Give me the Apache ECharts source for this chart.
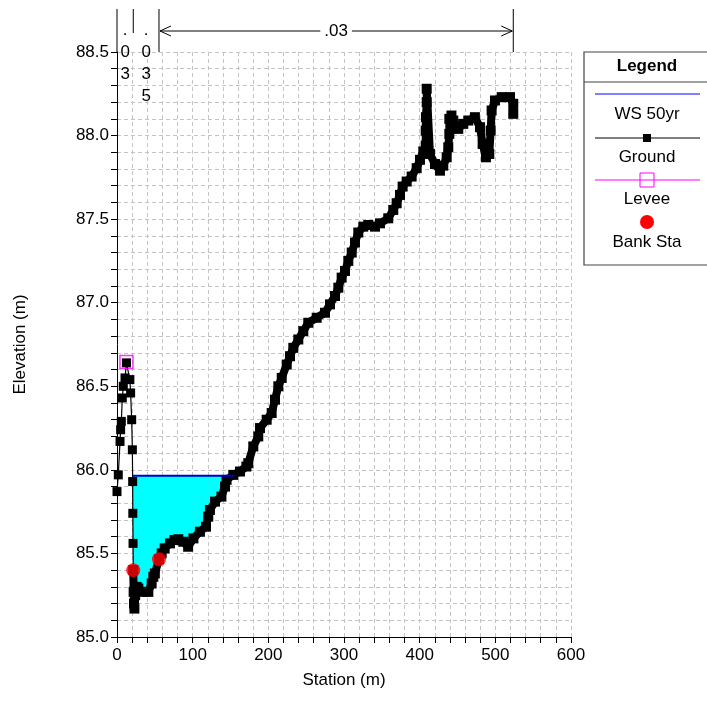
<!DOCTYPE html>
<html>
<head>
<meta charset="utf-8">
<script src="https://cdn.jsdelivr.net/npm/echarts@6/dist/echarts.min.js"></script>
<style>
html, body { margin: 0; padding: 0; background: #fff; }
#myChart { width: 707px; height: 717px; }
</style>
</head>
<body>
<div id="myChart"></div>
<script>
// ground profile (station m, elevation m)
var groundSta = [0, 1.7, 4, 4.8, 5.7, 7, 8.3, 10.6, 12.5, 17, 18, 19.4, 20.3, 20.7, 20.9, 21.2, 21.5, 22, 22.5, 23, 24, 26, 28.2, 34.8, 41.4, 45.8, 48, 50, 55.5, 59, 63, 70, 76, 81, 87.6, 94, 101, 109.6, 117.6, 120.6, 122.8, 129.5, 138, 142.7, 144.8, 153.7, 162.5, 171, 173.5, 180.1, 186.7, 189, 197.8, 204.4, 208.8, 213.2, 217.7, 224.3, 228.6, 233, 239.6, 246.2, 252.8, 263.9, 274.9, 281.5, 288.1, 292.5, 296.9, 301.3, 305.7, 310.2, 314.5, 318.9, 325.5, 332.1, 341, 347.6, 358.5, 365.1, 369.6, 374, 377.5, 382.8, 389.4, 396, 400.4, 404.8, 408, 408, 408.3, 409.3, 409.3, 413.6, 420.2, 426.8, 431.2, 435.7, 437.8, 439.2, 439.2, 442, 444.5, 451, 457.6, 464.2, 473, 479.7, 483.2, 487.6, 492, 493.8, 495.1, 499.5, 508.4, 519.4, 523.7, 523.7];
var groundElev = [85.87, 85.97, 86.17, 86.24, 86.29, 86.43, 86.50, 86.55, 86.64, 86.54, 86.46, 86.30, 86.12, 85.93, 85.74, 85.56, 85.40, 85.27, 85.20, 85.17, 85.25, 85.30, 85.29, 85.27, 85.27, 85.32, 85.36, 85.38, 85.465, 85.50, 85.53, 85.56, 85.58, 85.585, 85.57, 85.54, 85.59, 85.63, 85.66, 85.72, 85.76, 85.81, 85.84, 85.90, 85.94, 85.97, 85.99, 86.02, 86.04, 86.14, 86.20, 86.25, 86.30, 86.34, 86.42, 86.50, 86.55, 86.63, 86.68, 86.73, 86.78, 86.83, 86.88, 86.91, 86.94, 86.99, 87.04, 87.09, 87.15, 87.19, 87.25, 87.30, 87.36, 87.42, 87.455, 87.465, 87.455, 87.475, 87.505, 87.555, 87.595, 87.645, 87.695, 87.725, 87.755, 87.805, 87.855, 87.905, 87.94, 88.03, 88.11, 88.20, 88.28, 87.89, 87.83, 87.79, 87.82, 87.87, 87.93, 88.01, 88.10, 88.12, 88.09, 88.04, 88.07, 88.09, 88.11, 88.05, 87.95, 87.87, 87.89, 88.03, 88.15, 88.21, 88.23, 88.23, 88.19, 88.13];

// water surface
var wsElev = 85.965;
var wsSta = [20.7, 155];

// levee + bank stations
var leveeSta = [12.5];
var leveeElev = [86.645];
var bankSta = [21.5, 55.5];
var bankElev = [85.40, 85.465];

// manning's n breaks
var nSta = [0, 21.5, 55.5, 523.7];
var nVal = ['.03', '.035', '.03'];

var font = 'Liberation Sans, Arial, sans-serif';

var myChart = echarts.init(document.getElementById('myChart'));

function pairs(a, b) {
	var out = [];
	for (var i = 0; i < a.length; i++) out.push([a[i], b[i]]);
	return out;
}

var groundData = pairs(groundSta, groundElev);
// left overbank points are sparse (thin line), the rest are dense survey shots
var splitAt = groundSta.indexOf(bankSta[0]);
var groundLeft = groundData.slice(0, splitAt + 1);
var groundRest = groundData.slice(splitAt);

// polygon of the wetted area: ws line then ground back
var fillPoly = [[wsSta[0], wsElev], [wsSta[1], wsElev]];
for (var i = groundSta.length - 1; i >= 0; i--) {
	if (groundSta[i] > wsSta[0] && groundSta[i] < wsSta[1] && groundElev[i] < wsElev) {
		fillPoly.push([groundSta[i], groundElev[i]]);
	}
}

var gridLine = { show: true, lineStyle: { color: '#c4c4c4', type: [4, 3], width: 1 } };

option = {
	animation: false,
	backgroundColor: '#fff',
	grid: { left: 117, right: 136, top: 52, bottom: 80 },
	xAxis: {
		type: 'value', min: 0, max: 600, interval: 20,
		name: 'Station (m)', nameLocation: 'middle', nameGap: 35,
		nameTextStyle: { color: '#000', fontSize: 17, fontFamily: font },
		axisLine: { onZero: false, lineStyle: { color: '#000', width: 1 } },
		axisTick: { length: 6, lineStyle: { color: '#000' } },
		axisLabel: {
			color: '#000', fontSize: 17, fontFamily: font, margin: 10,
			formatter: function(v) { return v % 100 === 0 ? String(v) : ''; }
		},
		splitLine: gridLine
	},
	yAxis: {
		type: 'value', min: 85, max: 88.5, interval: 0.1,
		name: 'Elevation (m)', nameLocation: 'middle', nameGap: 88,
		nameTextStyle: { color: '#000', fontSize: 17, fontFamily: font },
		axisLine: { show: true, onZero: false, lineStyle: { color: '#000', width: 1 } },
		axisTick: { show: true, length: 6, lineStyle: { color: '#000' } },
		axisLabel: {
			color: '#000', fontSize: 17, fontFamily: font, margin: 8,
			formatter: function(v) {
				var t = Math.round(v * 10);
				return t % 5 === 0 ? (t / 10).toFixed(1) : '';
			}
		},
		splitLine: gridLine
	},
	series: [
		{
			type: 'custom', name: 'fill', z: 1,
			data: [0],
			renderItem: function(params, api) {
				var pts = fillPoly.map(function(p) { return api.coord(p); });
				return { type: 'polygon', shape: { points: pts }, style: { fill: '#00ffff' } };
			}
		},
		{
			type: 'line', name: 'Ground', z: 3,
			data: groundLeft,
			symbol: 'rect', symbolSize: 9,
			itemStyle: { color: '#000' },
			lineStyle: { color: '#000', width: 1.2 }
		},
		{
			type: 'line', name: 'Ground', z: 3,
			data: groundRest,
			symbol: 'rect', symbolSize: 10,
			itemStyle: { color: '#000' },
			lineStyle: { color: '#000', width: 8, join: 'round', cap: 'round' }
		},
		{
			type: 'line', name: 'WS 50yr', z: 4,
			data: [[wsSta[0], wsElev], [wsSta[1], wsElev]],
			symbol: 'none',
			lineStyle: { color: '#0000cc', width: 2 }
		},
		{
			type: 'scatter', name: 'Levee', z: 5,
			data: pairs(leveeSta, leveeElev),
			symbol: 'rect', symbolSize: 13,
			itemStyle: { color: 'rgba(0,0,0,0)', borderColor: '#ff00ff', borderWidth: 1.5 }
		},
		{
			type: 'scatter', name: 'Bank Sta', z: 6,
			data: pairs(bankSta, bankElev),
			symbol: 'circle', symbolSize: 14,
			itemStyle: { color: '#ff0000' }
		}
	]
};
myChart.setOption(option);

// manning's n annotations above the plot + legend box
var g = [];
var xs = nSta.map(function(s) { return myChart.convertToPixel({ xAxisIndex: 0 }, s); });
var topY = 52;
for (var k = 0; k < xs.length; k++) {
	var y2 = (k === 1) ? 33 : topY;
	g.push({ type: 'line', shape: { x1: xs[k], y1: 9, x2: xs[k], y2: y2 }, style: { stroke: '#000', lineWidth: 1 } });
}
// the narrow segments get vertical text
for (var k = 0; k < 2; k++) {
	g.push({
		type: 'text',
		style: {
			text: nVal[k].split('').join('\n'),
			x: (xs[k] + xs[k + 1]) / 2, y: 19,
			align: 'center', verticalAlign: 'top',
			font: '17px ' + font, lineHeight: 22, fill: '#000'
		}
	});
}
// wide segment: arrow with label
var ax1 = xs[2] + 1, ax2 = xs[3] - 1, ay = 31;
g.push({ type: 'line', shape: { x1: ax1, y1: ay, x2: ax2, y2: ay }, style: { stroke: '#000', lineWidth: 1 } });
g.push({ type: 'polyline', shape: { points: [[ax1 + 11, ay - 5], [ax1, ay], [ax1 + 11, ay + 5]] }, style: { stroke: '#000', fill: 'none', lineWidth: 1 } });
g.push({ type: 'polyline', shape: { points: [[ax2 - 11, ay - 5], [ax2, ay], [ax2 - 11, ay + 5]] }, style: { stroke: '#000', fill: 'none', lineWidth: 1 } });
g.push({
	type: 'text',
	style: {
		text: nVal[2], x: (ax1 + ax2) / 2, y: ay,
		align: 'center', verticalAlign: 'middle',
		font: '17px ' + font, fill: '#000',
		backgroundColor: '#fff', padding: [0, 4]
	}
});

// legend
var lx = 584, ly = 52, cx = 647;
g.push({ type: 'rect', shape: { x: lx, y: ly, width: 130, height: 213 }, style: { fill: '#fff', stroke: '#444', lineWidth: 1.2 } });
g.push({ type: 'line', shape: { x1: lx, y1: 82, x2: 714, y2: 82 }, style: { stroke: '#444', lineWidth: 1.2 } });
g.push({ type: 'text', style: { text: 'Legend', x: cx, y: 66, align: 'center', verticalAlign: 'middle', font: 'bold 17px ' + font, fill: '#000' } });
g.push({ type: 'line', shape: { x1: 595, y1: 94, x2: 700, y2: 94 }, style: { stroke: '#0000ff', lineWidth: 1 } });
g.push({ type: 'text', style: { text: 'WS 50yr', x: cx, y: 114, align: 'center', verticalAlign: 'middle', font: '17px ' + font, fill: '#000' } });
g.push({ type: 'line', shape: { x1: 595, y1: 138, x2: 700, y2: 138 }, style: { stroke: '#000', lineWidth: 1 } });
g.push({ type: 'rect', shape: { x: cx - 4, y: 134, width: 8, height: 8 }, style: { fill: '#000' } });
g.push({ type: 'text', style: { text: 'Ground', x: cx, y: 157, align: 'center', verticalAlign: 'middle', font: '17px ' + font, fill: '#000' } });
g.push({ type: 'line', shape: { x1: 595, y1: 180, x2: 700, y2: 180 }, style: { stroke: '#ff00ff', lineWidth: 1 } });
g.push({ type: 'rect', shape: { x: cx - 7, y: 173, width: 14, height: 14 }, style: { fill: 'none', stroke: '#ff00ff', lineWidth: 1 } });
g.push({ type: 'text', style: { text: 'Levee', x: cx, y: 199, align: 'center', verticalAlign: 'middle', font: '17px ' + font, fill: '#000' } });
g.push({ type: 'circle', shape: { cx: cx, cy: 222, r: 7 }, style: { fill: '#ff0000' } });
g.push({ type: 'text', style: { text: 'Bank Sta', x: cx, y: 242, align: 'center', verticalAlign: 'middle', font: '17px ' + font, fill: '#000' } });

myChart.setOption({ graphic: g });
</script>
</body>
</html>
